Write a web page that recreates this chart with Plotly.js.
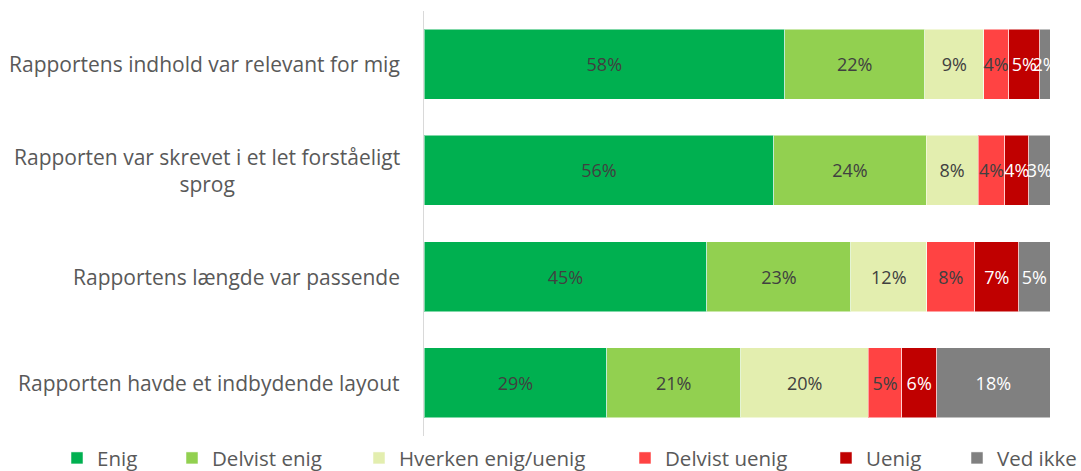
<!DOCTYPE html>
<html>
<head>
<meta charset="utf-8">
<script src="https://cdn.plot.ly/plotly-3.0.1.min.js"></script>
<style>
  html, body { margin: 0; padding: 0; background: #fff; }
  #chart { width: 1081px; height: 471px; }
</style>
</head>
<body>
<div id="chart"></div>
<script>
// Kategorier (top til bund)
const categories = [
  "Rapportens indhold var relevant for mig",
  "Rapporten var skrevet i et let forståeligt<br>sprog",
  "Rapportens længde var passende",
  "Rapporten havde et indbydende layout",
];

const seriesNames = ["Enig", "Delvist enig", "Hverken enig/uenig", "Delvist uenig", "Uenig", "Ved ikke"];

// Andele i procent
const enig = [57.6, 55.9, 45.2, 29.2];
const delvistEnig = [22.4, 24.3, 23.0, 21.4];
const hverken = [9.4, 8.3, 12.1, 20.4];
const delvistUenig = [4.0, 4.3, 7.7, 5.3];
const uenig = [5.0, 3.8, 7.0, 5.6];
const vedIkke = [1.6, 3.4, 5.0, 18.1];

const seriesValues = [enig, delvistEnig, hverken, delvistUenig, uenig, vedIkke];
const seriesColors = ["#00B050", "#92D050", "#E3EEAF", "#FF4343", "#C00000", "#808080"];
const labelColors = ["#404040", "#404040", "#404040", "#404040", "#FFFFFF", "#FFFFFF"];

// legend-placering (px fra venstre kant) for hver serie
const legendPx = [71, 186, 373, 639, 840, 971];

const plotLeft = 424;
const plotWidth = 626;
const font = "'Open Sans', sans-serif";

const data = seriesNames.map((name, i) => ({
  type: "bar",
  orientation: "h",
  name: name,
  y: categories,
  x: seriesValues[i],
  marker: { color: seriesColors[i], line: { color: "rgba(255,255,255,0.5)", width: 1 } },
  texttemplate: "%{x:.0f}%",
  textposition: "inside",
  insidetextanchor: "middle",
  textangle: 0,
  textfont: { family: font, size: 18, color: labelColors[i] },
  hoverinfo: "skip",
  legend: i === 0 ? "legend" : "legend" + (i + 1),
}));

const layout = {
  width: 1081,
  height: 471,
  barmode: "stack",
  bargap: 0.34,
  paper_bgcolor: "#fff",
  plot_bgcolor: "#fff",
  margin: { l: plotLeft, r: 1081 - plotLeft - plotWidth, t: 11, b: 35, autoexpand: false },
  uniformtext: { minsize: 18, mode: "show" },
  xaxis: {
    range: [0, 100],
    visible: false,
    fixedrange: true,
  },
  yaxis: {
    autorange: "reversed",
    showticklabels: false,
    ticks: "",
    showgrid: false,
    showline: true,
    linecolor: "#D9D9D9",
    linewidth: 1,
    zeroline: false,
    fixedrange: true,
  },
  annotations: categories.map((c) => ({
    xref: "paper",
    yref: "y",
    x: 0,
    y: c,
    xanchor: "right",
    xshift: -22,
    text: c,
    align: "center",
    showarrow: false,
    font: { family: font, size: 21, color: "#595959" },
  })),
  showlegend: true,
};

// én legend pr. serie, så afstandene kan matche figuren
legendPx.forEach((px, i) => {
  const key = i === 0 ? "legend" : "legend" + (i + 1);
  layout[key] = {
    orientation: "h",
    x: (px - 14 - plotLeft) / plotWidth,
    xanchor: "left",
    y: -0.052,
    yanchor: "middle",
    bgcolor: "rgba(0,0,0,0)",
    font: { family: font, size: 20.5, color: "#595959" },
  };
});

Plotly.newPlot("chart", data, layout, { displayModeBar: false, staticPlot: true });
</script>
</body>
</html>
